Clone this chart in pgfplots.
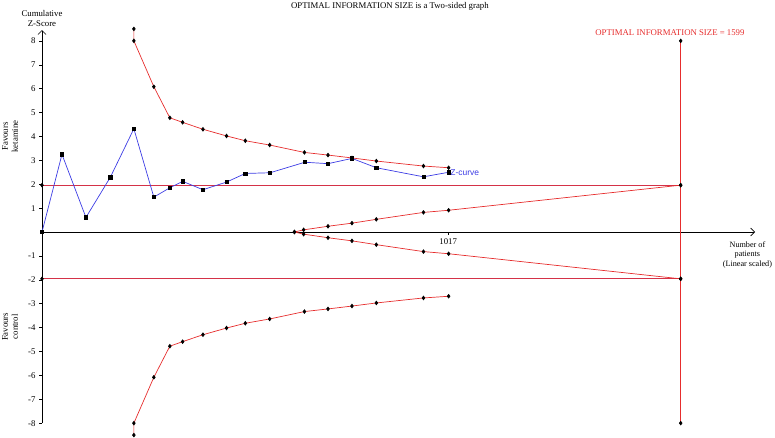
\documentclass[border=0pt]{standalone}
\usepackage{pgfplots}
\pgfplotsset{compat=1.18}
\usepackage{fontspec}
\setmainfont{Liberation Serif}
\newfontfamily\zsans{Liberation Sans}
\usetikzlibrary{arrows.meta}
\definecolor{tsared}{RGB}{230,45,45}
\definecolor{zblue}{RGB}{60,60,228}
\definecolor{convred}{RGB}{212,50,72}
\begin{document}
\begin{tikzpicture}[font=\fontsize{8.8}{9.8}\selectfont]
\useasboundingbox (-42bp,-206bp) rectangle (733bp,232bp);
\begin{axis}[
  at={(0,0)}, anchor=origin,
  scale only axis, width=713bp, height=393bp,
  xmin=0, xmax=1785, ymin=-8, ymax=8.45,
  axis lines=middle, clip=false,
  axis line style={black, line width=0.6pt},
  x axis line style={-{Straight Barb[length=4pt,width=8pt]}},
  y axis line style={-{Straight Barb[length=4pt,width=8pt]}},
  xtick={1017}, xticklabels={1017},
  ytick={-8,-7,-6,-5,-4,-3,-2,-1,1,2,3,4,5,6,7,8},
  tick align=outside, major tick length=3pt,
  tick style={black, line width=0.5pt},
  /pgf/number format/assume math mode=true,
  /pgf/number format/1000 sep={},
  ticklabel style={font=\fontsize{8.8}{9.8}\selectfont},
]
% conventional boundaries
\addplot[convred, line width=0.7pt, mark=diamond*, mark size=1.8pt, mark options={black, fill=black}]
  coordinates {(0,1.96) (1599,1.96)};
\addplot[convred, line width=0.7pt, mark=diamond*, mark size=1.8pt, mark options={black, fill=black}]
  coordinates {(0,-1.96) (1599,-1.96)};
% required information size line
\addplot[tsared, line width=0.7pt, mark=diamond*, mark size=1.8pt, mark options={black, fill=black}]
  coordinates {(1599,-8) (1599,8)};
% upper monitoring boundary
\addplot[tsared, line width=0.7pt, mark=diamond*, mark size=1.8pt, mark options={black, fill=black}]
  coordinates {(230,8.5) (230,8.0) (280,6.08) (320,4.78) (352,4.59) (403,4.30) (462,4.02) (509,3.82)
    (570,3.64) (657,3.33) (716,3.22) (776,3.10) (837,2.97) (955,2.76) (1018,2.69)};
% lower monitoring boundary
\addplot[tsared, line width=0.7pt, mark=diamond*, mark size=1.8pt, mark options={black, fill=black}]
  coordinates {(230,-8.5) (230,-8.0) (280,-6.08) (320,-4.78) (352,-4.59) (403,-4.30) (462,-4.02) (509,-3.82)
    (570,-3.64) (657,-3.33) (716,-3.22) (776,-3.10) (837,-2.97) (955,-2.76) (1018,-2.69)};
% futility boundaries
\addplot[tsared, line width=0.7pt, mark=diamond*, mark size=1.8pt, mark options={black, fill=black}]
  coordinates {(632,0) (655,0.09) (716,0.24) (776,0.37) (837,0.53) (955,0.82) (1018,0.91) (1599,1.96)};
\addplot[tsared, line width=0.7pt, mark=diamond*, mark size=1.8pt, mark options={black, fill=black}]
  coordinates {(632,0) (655,-0.09) (716,-0.24) (776,-0.37) (837,-0.53) (955,-0.82) (1018,-0.91) (1599,-1.96)};
% Z-curve
\addplot[zblue, line width=0.7pt, mark=square*, mark size=1.6pt, mark options={black, fill=black}]
  coordinates {(0,0) (50,3.25) (110,0.61) (171,2.29) (230,4.32) (280,1.46) (320,1.85) (352,2.12)
    (403,1.77) (462,2.09) (509,2.45) (571,2.48) (658,2.92) (716,2.86) (776,3.08) (837,2.69)
    (955,2.31) (1018,2.50)};
% texts
\node[align=center, inner sep=0pt] at (axis cs:0,8.95) {Cumulative\\Z-Score};
\node[inner sep=0pt] at (axis cs:871,9.45) {OPTIMAL INFORMATION SIZE is a Two-sided graph};
\node[inner sep=0pt, text=tsared] at (axis cs:1572,8.33) {OPTIMAL INFORMATION SIZE = 1599};
\node[align=center, inner sep=0pt, font=\fontsize{8.2}{9.6}\selectfont] at (axis cs:1766,-0.96) {Number of\\patients\\(Linear scaled)};
\node[align=center, inner sep=0pt, rotate=90] at (axis cs:-80,4.0) {Favours\\ketamine};
\node[align=center, inner sep=0pt, rotate=90] at (axis cs:-80,-3.97) {Favours\\control};
\node[anchor=west, inner sep=0pt, text=zblue, font=\zsans\fontsize{8.5}{9.5}\selectfont] at (axis cs:1022,2.5) {Z-curve};
\end{axis}
\end{tikzpicture}
\end{document}
